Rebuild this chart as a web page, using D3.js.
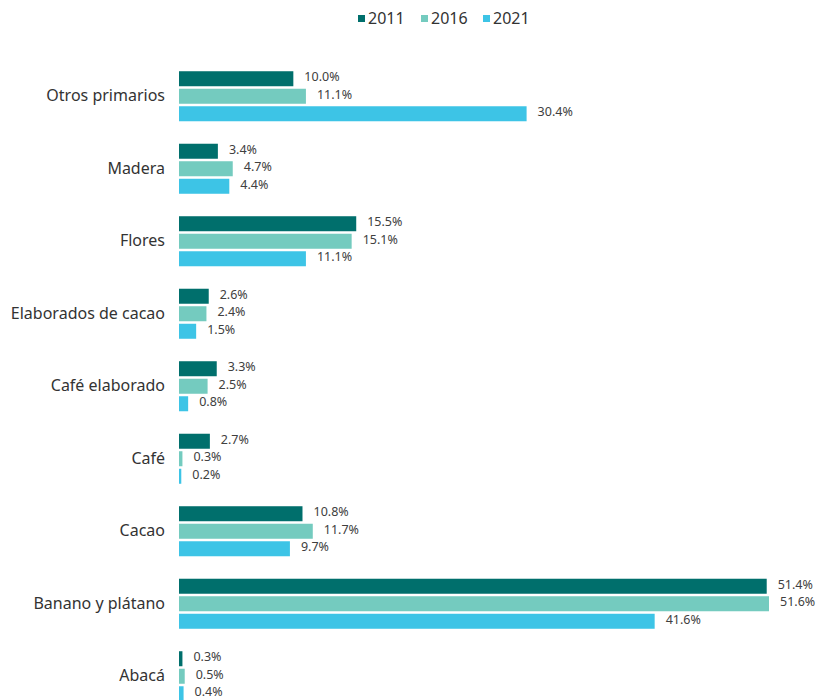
<!DOCTYPE html>
<html>
<head>
<meta charset="utf-8">
<script src="https://cdn.jsdelivr.net/npm/d3@7"></script>
<style>
  body { margin: 0; background: #fff; }
  svg { font-family: "Noto Sans", "Open Sans", sans-serif; }
</style>
</head>
<body>
<div id="chart"></div>
<script>
// data
const categories = ["Otros primarios", "Madera", "Flores", "Elaborados de cacao",
  "Café elaborado", "Café", "Cacao", "Banano y plátano", "Abacá"];
const years = ["2011", "2016", "2021"];
const v2011 = [10.0, 3.4, 15.5, 2.6, 3.3, 2.7, 10.8, 51.4, 0.3];
const v2016 = [11.1, 4.7, 15.1, 2.4, 2.5, 0.3, 11.7, 51.6, 0.5];
const v2021 = [30.4, 4.4, 11.1, 1.5, 0.8, 0.2, 9.7, 41.6, 0.4];
const colors = ["#006f6c", "#74cbbf", "#3dc4e6"];

const width = 819, height = 700;
const margin = {top: 60, left: 179};

const series = [v2011, v2016, v2021];
const data = categories.map((c, i) => ({
  cat: c,
  vals: years.map((y, j) => ({year: y, value: series[j][i], color: colors[j]}))
}));

const svg = d3.select("#chart")
  .append("svg")
  .attr("width", width)
  .attr("height", height);

// scales
const x = d3.scaleLinear()
  .domain([0, 51.6])
  .range([margin.left, 769]);

const y = d3.scaleBand()
  .domain(categories)
  .range([margin.top, margin.top + 72.5 * categories.length])
  .paddingInner(0.31)
  .paddingOuter(0.155);

const yInner = d3.scaleBand()
  .domain(years)
  .range([0, y.bandwidth()])
  .paddingInner(0.143);

// category axis (no line, no ticks)
const axis = svg.append("g")
  .attr("transform", `translate(${margin.left - 6},0)`)
  .call(d3.axisLeft(y).tickSize(0).tickPadding(8));
axis.select(".domain").remove();
axis.selectAll("text")
  .attr("font-size", "16px")
  .attr("fill", "#333")
  .attr("font-family", "Noto Sans, sans-serif");

// bars
const groups = svg.selectAll(".grp")
  .data(data)
  .enter()
  .append("g")
  .attr("class", "grp")
  .attr("transform", d => `translate(0,${y(d.cat)})`);

groups.selectAll("rect")
  .data(d => d.vals)
  .enter()
  .append("rect")
  .attr("x", x(0))
  .attr("y", d => yInner(d.year))
  .attr("width", d => x(d.value) - x(0))
  .attr("height", yInner.bandwidth())
  .attr("fill", d => d.color);

groups.selectAll(".lbl")
  .data(d => d.vals)
  .enter()
  .append("text")
  .attr("class", "lbl")
  .attr("x", d => x(d.value) + 11)
  .attr("y", d => yInner(d.year) + yInner.bandwidth() / 2 - 2)
  .attr("dy", "0.35em")
  .attr("font-size", "12.5px")
  .attr("fill", "#404040")
  .text(d => d.value.toFixed(1) + "%");

// legend
const legX = [358, 421, 483];
const legend = svg.selectAll(".leg")
  .data(years)
  .enter()
  .append("g")
  .attr("class", "leg")
  .attr("transform", (d, i) => `translate(${legX[i]},18)`);

legend.append("rect")
  .attr("x", 0)
  .attr("y", -3)
  .attr("width", 7)
  .attr("height", 7)
  .attr("fill", (d, i) => colors[i]);

legend.append("text")
  .attr("x", 10)
  .attr("y", 0)
  .attr("dy", "0.35em")
  .attr("font-size", "16px")
  .attr("fill", "#333")
  .text(d => d);
</script>
</body>
</html>
